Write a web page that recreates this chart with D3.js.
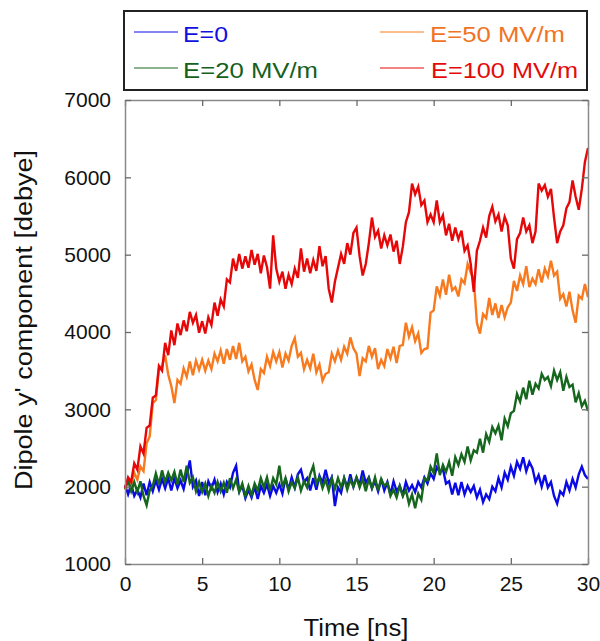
<!DOCTYPE html>
<html>
<head>
<meta charset="utf-8">
<script src="https://cdn.jsdelivr.net/npm/d3@7"></script>
<style>
  body { margin: 0; background: #fff; }
  text { font-family: "Liberation Sans", Arial, sans-serif; }
</style>
</head>
<body>
<div id="painting"></div>
<script>
// dipole y' component (debye), sampled every 0.2 ns from 0 to 30 ns
var time_step = 0.2;

var e0 = [
  2020, 1900, 2030, 1880, 1960, 1860, 2040, 1890, 2060, 1940,
  2080, 1960, 2100, 1980, 2110, 1950, 2110, 1980, 2080, 1970,
  2150, 2340, 2000, 2080, 1880, 2060, 1890, 2070, 1980, 2090,
  1930, 2040, 1900, 2060, 1990, 2180, 2270, 1940, 2010, 1850,
  1960, 1860, 2000, 1840, 2010, 1920, 2030, 1880, 2010, 1920,
  2030, 1910, 2110, 1960, 2120, 1990, 2160, 2220, 2060, 2110,
  1950, 2110, 1960, 2140, 2050, 2220, 2050, 2120, 1750, 1990,
  1920, 2110, 1990, 2160, 2000, 2120, 2020, 2210, 2050, 2120,
  1980, 2070, 1940, 2100, 1950, 2060, 1900, 2070, 1940, 2010,
  1890, 2060, 1950, 2020, 1930, 2060, 1990, 2120, 2040, 2170,
  2100, 2250, 2190, 2230, 2040, 2070, 1900, 2050, 1890, 2060,
  1900, 2010, 1930, 2010, 1860, 1960, 1800, 1900, 1840, 2000,
  1940, 2110, 1990, 2180, 2090, 2260, 2140, 2320, 2230, 2380,
  2200, 2320, 2240, 2060, 2150, 2000, 2150, 1990, 2060, 1880,
  1780, 1940, 1890, 2060, 1950, 2100, 1990, 2160, 2260, 2150,
  2100];

var e20 = [
  1970, 2080, 1940, 2060, 1930, 2070, 1880, 1760, 1950, 2010,
  2170, 2030, 2210, 2060, 2180, 2080, 2190, 2030, 2220, 2060,
  2270, 2050, 2120, 1940, 2060, 1930, 2040, 1880, 2010, 1920,
  2060, 1940, 2050, 1920, 2110, 1980, 2090, 1930, 2040, 1880,
  2010, 1890, 2040, 1950, 2110, 1990, 2120, 1950, 2110, 2030,
  2270, 1990, 2110, 1940, 2060, 1980, 2120, 1950, 2070, 1990,
  2160, 2270, 2040, 2120, 1980, 2090, 1950, 2110, 1970, 2110,
  1990, 2110, 1960, 2090, 2000, 2120, 1990, 2100, 1940, 2100,
  1980, 2120, 1950, 2100, 2010, 2050, 1880, 1960, 1860, 2010,
  1880, 1960, 1780, 1900, 1720, 1910, 1830, 2110, 2080, 2260,
  2180, 2430, 2150, 2280, 2190, 2320, 2140, 2380, 2280, 2420,
  2320, 2520, 2340, 2470, 2440, 2620, 2440, 2680, 2580, 2770,
  2690, 2790, 2600, 2880, 2780, 2950, 2980, 3200, 3100, 3280,
  3130, 3370, 3190, 3330, 3270, 3460, 3380, 3420, 3300, 3500,
  3380, 3480, 3240, 3420, 3290, 3320, 3090, 3210, 3040, 3110,
  2980];

var e50 = [
  1960, 2090, 2030, 2180, 2090, 2260, 2200, 2560, 2650, 3080,
  3120, 3530, 3560, 3700, 3450, 3300, 3080, 3380, 3330, 3530,
  3420, 3620, 3440, 3630, 3510, 3640, 3500, 3630, 3520, 3720,
  3620, 3760, 3590, 3780, 3640, 3820, 3650, 3860, 3620, 3680,
  3490, 3580, 3380, 3250, 3520, 3470, 3680, 3560, 3740, 3620,
  3740, 3540, 3720, 3630, 3820, 3920, 3680, 3730, 3520, 3640,
  3530, 3720, 3480, 3580, 3370, 3460, 3480, 3720, 3620, 3760,
  3640, 3810, 3720, 3930, 3790, 3720, 3430, 3660, 3620, 3820,
  3680, 3790, 3520, 3640, 3560, 3780, 3660, 3810, 3600, 3820,
  3830, 4120, 3940, 4060, 3880, 3980, 3730, 3780, 3790, 4250,
  4280, 4590, 4470, 4680, 4480, 4740, 4540, 4580, 4460, 4680,
  4630, 4880, 4770, 4680, 4120, 3980, 4230, 4180, 4440, 4220,
  4370, 4180, 4350, 4190, 4320, 4380, 4660, 4530, 4730, 4620,
  4850, 4580, 4690, 4620, 4810, 4640, 4820, 4720, 4920, 4730,
  4780, 4430, 4490, 4330, 4520, 4280, 4120, 4470, 4430, 4620,
  4450];

var e100 = [
  1980, 2120, 2060, 2300, 2220, 2520, 2430, 2760, 2790, 3150,
  3180, 3560, 3500, 3860, 3700, 4020, 3830, 4110, 3960, 4150,
  4010, 4260, 4120, 4220, 3990, 4140, 3980, 4190, 4090, 4380,
  4210, 4420, 4330, 4680, 4640, 4950, 4790, 5010, 4820, 4980,
  4830, 5060, 4870, 5010, 4760, 4990, 4840, 4560, 5250, 4820,
  4650, 4780, 4560, 4740, 4620, 4820, 4700, 5080, 4780, 4950,
  4760, 4930, 4790, 5110, 4850, 4980, 4560, 4380, 4650, 4830,
  5010, 4880, 5150, 5000, 5280, 5350, 4980, 4730, 4880, 5150,
  5480, 5230, 5310, 5080, 5250, 5120, 5260, 5040, 5180, 4880,
  5100, 5420, 5550, 5920, 5780, 5880, 5640, 5700, 5420, 5520,
  5420, 5700, 5420, 5510, 5250, 5400, 5180, 5350, 5200, 5310,
  5050, 5120, 4880, 4520, 5050, 5180, 5350, 5220, 5500, 5620,
  5430, 5520, 5300, 5490, 5380, 4950, 4820, 5200, 5280, 5480,
  5300, 5380, 5150, 5300, 5920, 5830, 5900, 5750, 5850, 5480,
  5150, 5300, 5380, 5600, 5680, 5960, 5750, 5580, 5850, 6200,
  6380];

var series_names = ["E=0", "E=20 MV/m", "E=50 MV/m", "E=100 MV/m"];
var series_values = [e0, e20, e50, e100];
var line_colours = ["#0a0ae6", "#16661e", "#f87a1e", "#e60808"];
var text_colours = ["#1010e0", "#15601c", "#f07424", "#e40a0a"];

var x_ticks = [0, 5, 10, 15, 20, 25, 30];
var y_ticks = [1000, 2000, 3000, 4000, 5000, 6000, 7000];

var svg = d3.select("#painting").append("svg")
  .attr("width", 600)
  .attr("height", 641);

var xScale = d3.scaleLinear().domain([0, 30]).range([125, 588]);
var yScale = d3.scaleLinear().domain([1000, 7000]).range([564, 100]);

// lines (blue, orange, green, red so that red ends up on top)
var line = d3.line()
  .x(function(d, i) { return xScale(i * time_step); })
  .y(function(d) { return yScale(d); });

[0, 2, 1, 3].forEach(function(k) {
  svg.append("path")
    .datum(series_values[k])
    .attr("fill", "none")
    .attr("stroke", line_colours[k])
    .attr("stroke-width", 2.4)
    .attr("stroke-linejoin", "miter")
    .attr("d", line);
});

// frame + inward ticks on all four sides
function styleAxis(g) {
  g.selectAll(".domain").attr("stroke", "#8a8a8a").attr("stroke-width", 1.5);
  g.selectAll(".tick line").attr("stroke", "#6a6a6a").attr("stroke-width", 1.3);
  g.selectAll(".tick text").attr("fill", "#111").style("font-size", "21px")
    .style("font-family", "'Liberation Sans', Arial, sans-serif");
}

svg.append("g")
  .attr("transform", "translate(0,564)")
  .call(d3.axisBottom(xScale).tickValues(x_ticks).tickSizeInner(-6).tickSizeOuter(0).tickPadding(12).tickFormat(d3.format("d")))
  .call(styleAxis);

svg.append("g")
  .attr("transform", "translate(0,100)")
  .call(d3.axisTop(xScale).tickValues(x_ticks).tickSizeInner(-6).tickSizeOuter(0).tickFormat(""))
  .call(styleAxis);

svg.append("g")
  .attr("transform", "translate(125,0)")
  .call(d3.axisLeft(yScale).tickValues(y_ticks).tickSizeInner(-6).tickSizeOuter(0).tickPadding(14).tickFormat(d3.format("d")))
  .call(styleAxis);

svg.append("g")
  .attr("transform", "translate(588,0)")
  .call(d3.axisRight(yScale).tickValues(y_ticks).tickSizeInner(-6).tickSizeOuter(0).tickFormat(""))
  .call(styleAxis);

// axis titles
svg.append("text")
  .attr("x", 356).attr("y", 636)
  .attr("text-anchor", "middle")
  .attr("fill", "#111")
  .style("font-size", "23px")
  .attr("textLength", 105).attr("lengthAdjust", "spacingAndGlyphs")
  .text("Time [ns]");

svg.append("text")
  .attr("transform", "translate(32,320) rotate(-90)")
  .attr("text-anchor", "middle")
  .attr("fill", "#111")
  .style("font-size", "23px")
  .attr("textLength", 340).attr("lengthAdjust", "spacingAndGlyphs")
  .text("Dipole y' component [debye]");

// legend
var legend = svg.append("g");
legend.append("rect")
  .attr("x", 124).attr("y", 11)
  .attr("width", 463).attr("height", 79)
  .attr("fill", "#fff")
  .attr("stroke", "#222")
  .attr("stroke-width", 2);

var legend_pos = [
  {lx: 134, tx: 183, y: 32, w: 45},
  {lx: 134, tx: 183, y: 68, w: 135},
  {lx: 380, tx: 430, y: 32, w: 135},
  {lx: 380, tx: 431, y: 68, w: 147}
];

series_names.forEach(function(name, k) {
  var p = legend_pos[k];
  legend.append("line")
    .attr("x1", p.lx).attr("x2", p.lx + 44)
    .attr("y1", p.y).attr("y2", p.y)
    .attr("stroke", line_colours[k])
    .attr("stroke-width", 1);
  legend.append("text")
    .attr("x", p.tx).attr("y", p.y + 10)
    .attr("fill", text_colours[k])
    .style("font-size", "22px")
    .attr("textLength", p.w).attr("lengthAdjust", "spacingAndGlyphs")
    .text(name);
});
</script>
</body>
</html>
